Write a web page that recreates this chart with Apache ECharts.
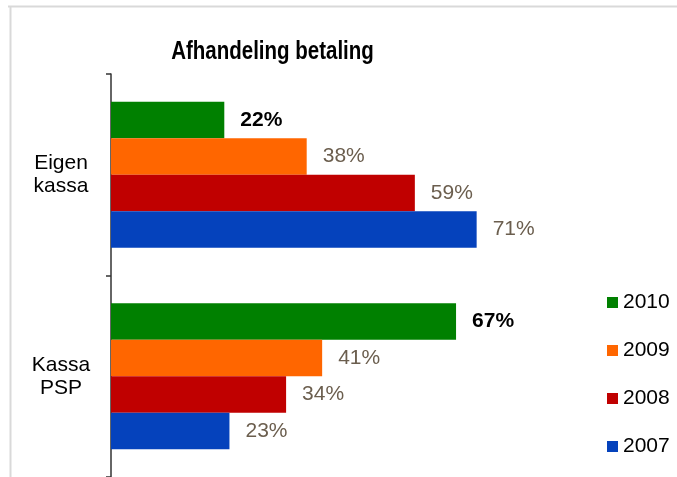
<!DOCTYPE html>
<html>
<head>
<meta charset="utf-8">
<script src="https://cdn.jsdelivr.net/npm/echarts@6/dist/echarts.min.js"></script>
<style>
  html, body { margin: 0; padding: 0; background: #fff; }
  #chart { width: 677px; height: 477px; }
</style>
</head>
<body>
<div id="chart"></div>
<script>
// Categories (top to bottom) and the yearly shares in percent
const categories = ['Eigen\nkassa', 'Kassa\nPSP'];
const years = ['2010', '2009', '2008', '2007'];
const values2010 = [22, 67];
const values2009 = [38, 41];
const values2008 = [59, 34];
const values2007 = [71, 23];
const seriesValues = [values2010, values2009, values2008, values2007];
const yearColors = ['#008000', '#FF6600', '#C00000', '#0542BC'];
const chartTitle = 'Afhandeling betaling';

const FONT = '"Liberation Sans", Arial, sans-serif';

const chart = echarts.init(document.getElementById('chart'), null, { renderer: 'canvas' });

const series = years.map((y, i) => ({
  name: y,
  type: 'bar',
  data: seriesValues[i],
  barGap: '0%',
  barCategoryGap: '27.6%',
  itemStyle: { color: yearColors[i] },
  label: {
    show: true,
    position: 'right',
    distance: 16,
    formatter: '{c}%',
    fontFamily: FONT,
    fontSize: 21,
    fontWeight: i === 0 ? 'bold' : 'normal',
    color: i === 0 ? '#000000' : '#6B5E4E'
  },
  animation: false
}));

chart.setOption({
  animation: false,
  backgroundColor: '#ffffff',
  legend: {
    orient: 'vertical',
    left: 607,
    top: 292,
    padding: 0,
    itemWidth: 11,
    itemHeight: 11,
    itemGap: 27,
    icon: 'rect',
    data: years,
    textStyle: { fontFamily: FONT, fontSize: 21, color: '#000', lineHeight: 21 }
  },
  grid: { left: 111, top: 74, width: 515, bottom: -3, containLabel: false },
  xAxis: {
    type: 'value',
    min: 0,
    max: 100,
    show: false
  },
  yAxis: {
    type: 'category',
    inverse: true,
    data: categories,
    axisLine: { show: true, lineStyle: { color: '#333', width: 1.5 } },
    axisTick: { show: true, length: 5, lineStyle: { color: '#333', width: 1.5 } },
    axisLabel: {
      fontFamily: FONT,
      fontSize: 21,
      color: '#000',
      align: 'center',
      margin: 50,
      lineHeight: 23
    }
  },
  series: series,
  graphic: [
    // frame edges
    { type: 'line', shape: { x1: 8, y1: 6.5, x2: 677, y2: 6.5 }, style: { stroke: '#D9D9D9', lineWidth: 2 }, silent: true },
    { type: 'line', shape: { x1: 10.5, y1: 6, x2: 10.5, y2: 477 }, style: { stroke: '#D9D9D9', lineWidth: 2 }, silent: true },
    // condensed bold heading
    {
      type: 'text',
      x: 272.5,
      y: 65,
      scaleX: 0.82,
      silent: true,
      style: {
        text: chartTitle,
        font: 'bold 25px "Liberation Sans", Arial, sans-serif',
        fill: '#000',
        textAlign: 'center',
        textVerticalAlign: 'bottom',
        verticalAlign: 'bottom'
      }
    }
  ]
});
</script>
</body>
</html>
